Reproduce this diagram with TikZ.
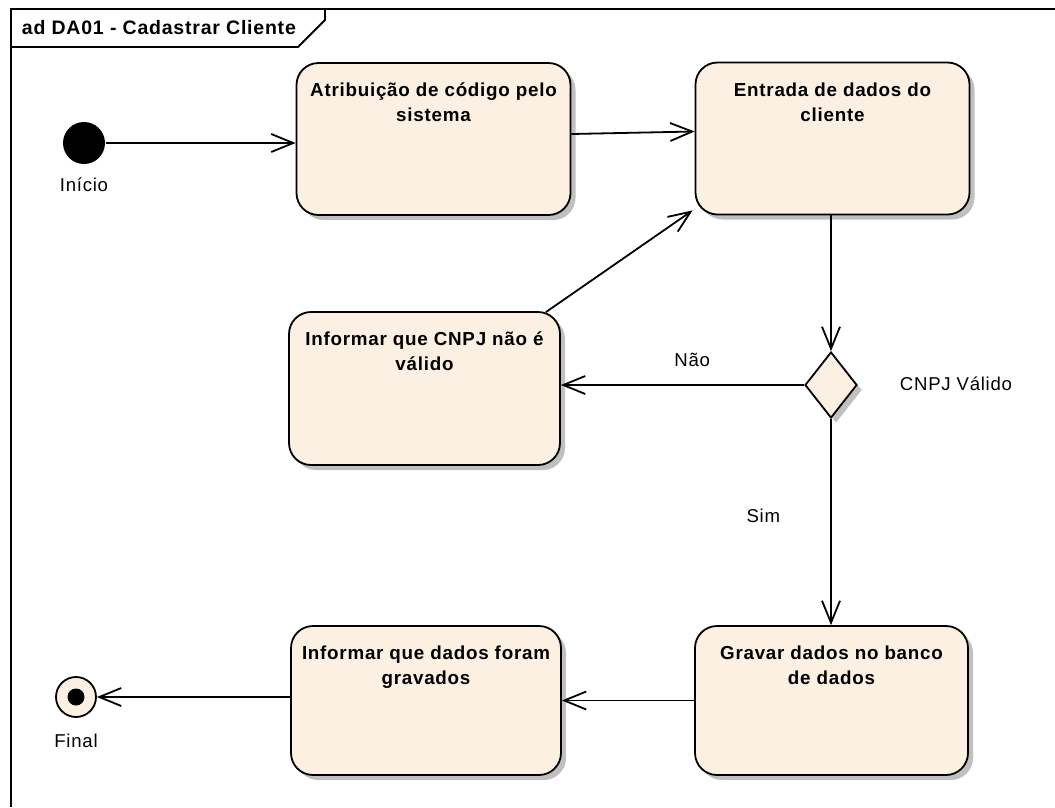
\documentclass[tikz,border=0pt]{standalone}
\usepackage{fontspec}
\setmainfont{Liberation Sans}[LetterSpace=4]
\usetikzlibrary{arrows.meta,shapes.geometric,shadows}
\definecolor{actfill}{RGB}{251,240,226}
\definecolor{shade}{RGB}{192,192,192}

\begin{document}
\begin{tikzpicture}[x=1pt,y=-1pt,line width=1.8pt,
  act/.style={draw, rounded corners=22pt, fill=actfill, inner sep=0pt,
    minimum width=274pt, minimum height=152pt,
    drop shadow={shadow xshift=5pt,shadow yshift=-5pt,fill=shade,opacity=1}},
  acttext/.style={anchor=north, align=center, inner sep=0pt,
    font=\bfseries\fontsize{18.8}{25}\selectfont},
  lbl/.style={font=\fontsize{18.6}{22}\selectfont, inner sep=0pt},
  flow/.style={-{Straight Barb[length=22pt,width=18pt]}}]
\useasboundingbox (0,0) rectangle (1055,807);

% frame with tab
\draw (11,807) -- (11,9) -- (1055,9);
\draw (11,47) -- (298,47) -- (325,20) -- (325,9);
\node[anchor=west, inner sep=0pt, font=\bfseries\fontsize{19.5}{22}\selectfont] (title) at (21,28) {ad DA01 - Cadastrar Cliente};

% start / final
\node[circle, fill=black, minimum size=42pt, inner sep=0pt] (start) at (84,143) {};
\node[lbl] (startlbl) at (84,185) {Início};
\node[circle, draw, fill=actfill, minimum size=40pt, inner sep=0pt] (final) at (76,697) {};
\fill (final) circle (8.5pt);
\node[lbl] (finallbl) at (76,741) {Final};

% actions
\node[act] (atrib) at (433.5,139) {};
\node[acttext] (atribtxt) at ([yshift=-20pt]atrib.north) {Atribuição de código pelo\\sistema};
\node[act] (entr) at (832.5,138.5) {};
\node[acttext] (entrtxt) at ([yshift=-20pt]entr.north) {Entrada de dados do\\cliente};
\node[act, minimum width=271pt, minimum height=153pt] (inval) at (424.5,388.5) {};
\node[acttext] (invaltxt) at ([yshift=-20pt]inval.north) {Informar que CNPJ não é\\válido};
\node[act, minimum width=273pt, minimum height=149pt] (grav) at (831.5,700.5) {};
\node[acttext] (gravtxt) at ([yshift=-20pt]grav.north) {Gravar dados no banco\\de dados};
\node[act, minimum width=270pt, minimum height=149pt] (infdad) at (426,700.5) {};
\node[acttext] (infdadtxt) at ([yshift=-20pt]infdad.north) {Informar que dados foram\\gravados};

% decision
\node[diamond, draw, fill=actfill, minimum width=52pt, minimum height=66pt, inner sep=0pt,
  drop shadow={shadow xshift=5pt,shadow yshift=-5pt,fill=shade,opacity=1}] (dec) at (831,385) {};
\node[lbl] (declbl) at (956,384) {CNPJ Válido};

% flows
\draw[flow] (start.east) -- (start.east -| atrib.west);
\draw[flow] ([yshift=5pt]atrib.east) -- ([yshift=7pt]entr.west);
\draw[flow] (entr.south -| dec.north) -- (dec.north);
\draw[flow] (dec.west) -- (dec.west -| inval.east) node[lbl, pos=0.46, above=17pt] (nao) {Não};
\draw[flow] ([xshift=-15pt,yshift=-1pt]inval.north east) -- ([xshift=-2pt,yshift=5pt]entr.south west);
\draw[flow] (dec.south) -- (grav.north -| dec.south) node[lbl, pos=0.47, left=50pt] (sim) {Sim};
\draw[flow] (grav.west) -- (grav.west -| infdad.east);
\draw[flow] (infdad.west |- final.east) -- (final.east);
\end{tikzpicture}
\end{document}
